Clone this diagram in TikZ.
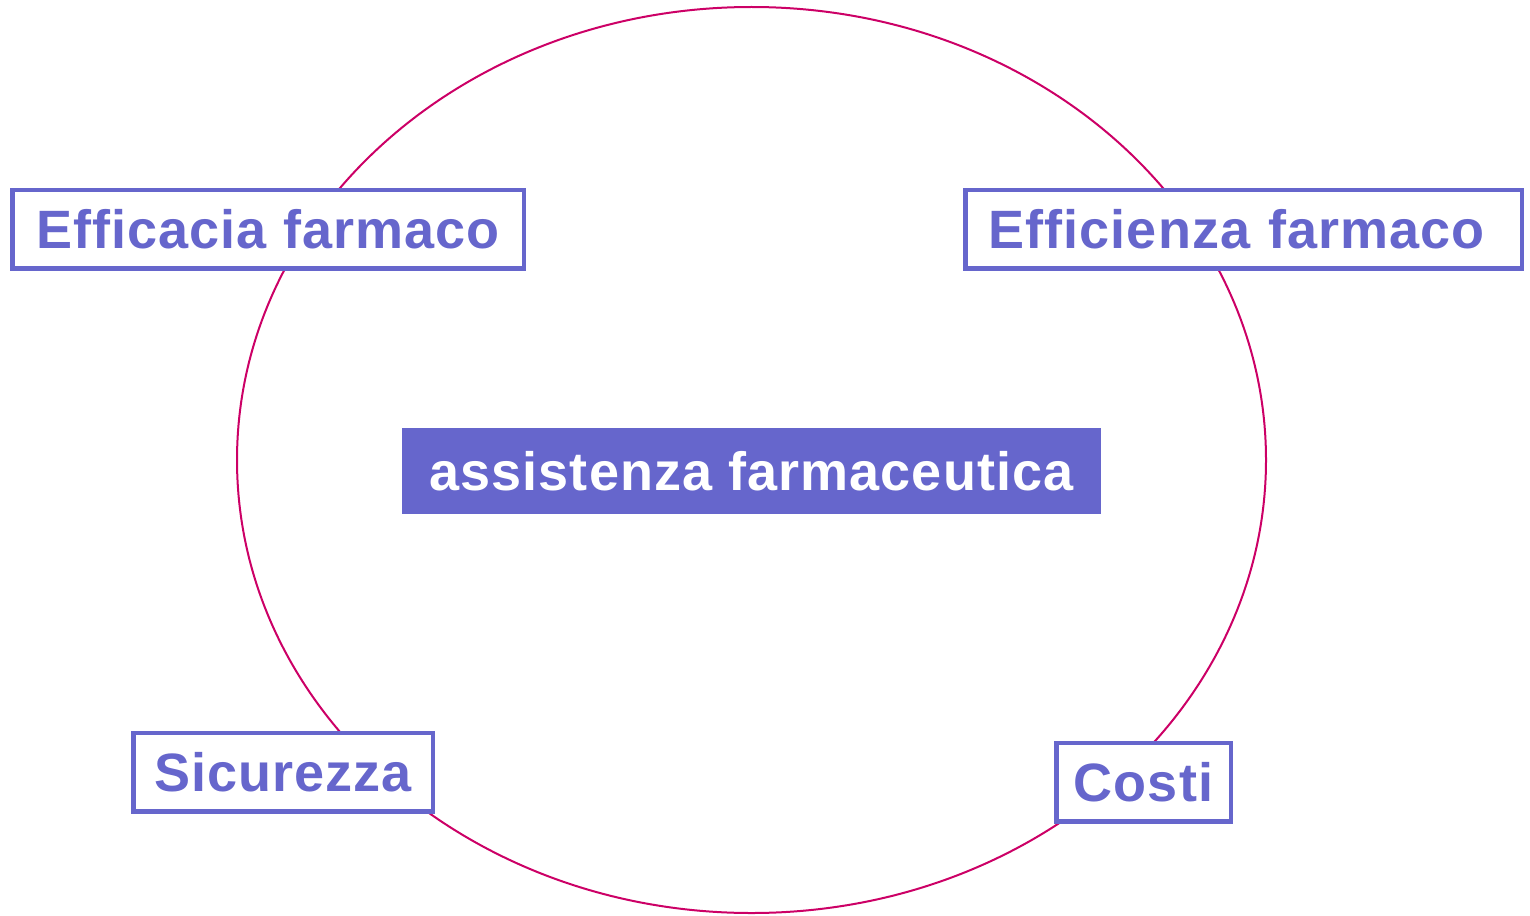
\documentclass[tikz,border=0pt]{standalone}
\usepackage{fontspec}
\newfontfamily\lblfont{Liberation Sans}[LetterSpace=2]
\definecolor{boxblue}{HTML}{6666CC}
\definecolor{ringred}{HTML}{CC0066}
\begin{document}
\begin{tikzpicture}[x=1pt,y=-1pt,
  lbl/.style={font=\lblfont\bfseries\fontsize{54}{62}\selectfont},
  framebox/.style={lbl,draw=boxblue,line width=4.5pt,fill=white,text=boxblue,
    rectangle,inner sep=0pt,minimum height=78.5pt},
  mainbox/.style={lbl,fill=boxblue,text=white,rectangle,inner sep=0pt,
    minimum width=699pt,minimum height=86pt}]
\useasboundingbox (0,0) rectangle (1530,915);
\draw[ringred,line width=2pt] (751.5,460) ellipse [x radius=514.5,y radius=453];
\node[framebox,minimum width=511.5pt] (eff) at (268,229) {Efficacia farmaco};
\node[framebox,minimum width=556.5pt,text width=510pt,align=left] (effi) at (1243.5,229) {Efficienza farmaco};
\node[framebox,minimum width=299.5pt] (sic) at (283,772) {Sicurezza};
\node[framebox,minimum width=174.5pt] (cos) at (1143.5,782) {Costi};
\node[mainbox] (main) at (751.5,471) {assistenza farmaceutica};
\end{tikzpicture}
\end{document}
